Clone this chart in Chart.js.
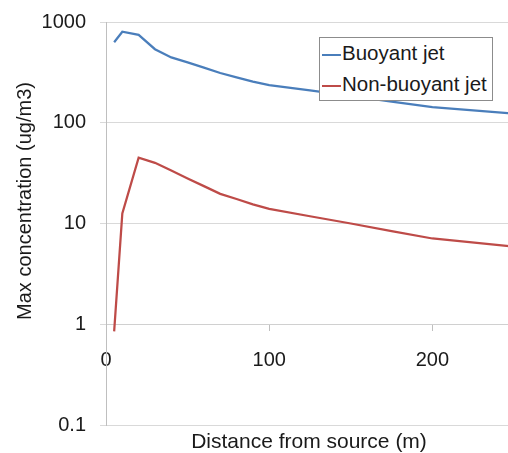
<!DOCTYPE html>
<html>
<head>
<meta charset="utf-8">
<script src="https://cdn.jsdelivr.net/npm/chart.js@4/dist/chart.umd.min.js"></script>
<style>
  html, body { margin: 0; padding: 0; background: #fff; overflow: hidden; }
  #wrap { position: relative; width: 508px; height: 453px; overflow: hidden; }
  #chart { position: absolute; left: 0; top: 0; }
  #legend {
    position: absolute; left: 319px; top: 37px; width: 172px; height: 62px;
    background: #fff; border: 1px solid #8c8c8c;
    font-family: "Liberation Sans", Arial, sans-serif; font-size: 20.5px; color: #1a1a1a;
  }
  #legend .item { position: absolute; left: 2px; white-space: nowrap; line-height: 24px; }
  #legend .swatch { display: inline-block; width: 19px; height: 2px; vertical-align: middle; margin-right: 1px; }
</style>
</head>
<body>
<div id="wrap">
  <canvas id="chart" width="516" height="453"></canvas>
  <div id="legend"></div>
</div>
<script>
// ============================================
// Data
// ============================================
const distances = [5, 10, 20, 30, 40, 50, 60, 70, 80, 90, 100, 125, 150, 175, 200, 250];
const buoyantJet = [630, 800, 745, 537, 445, 398, 353, 312, 282, 256, 236, 210, 185, 162, 143, 123];
const nonBuoyantJet = [0.85, 12.6, 45, 40, 33.5, 28, 23.5, 19.7, 17.5, 15.5, 14, 11.8, 10, 8.4, 7.1, 5.9];
const seriesNames = ['Buoyant jet', 'Non-buoyant jet'];
const seriesColors = ['#4a7ebb', '#be4b48'];
const yTicks = [0.1, 1, 10, 100, 1000];
const xTicks = [0, 100, 200];
const xTitle = 'Distance from source (m)';
const yTitle = 'Max concentration (ug/m3)';

const FONT = '"Liberation Sans", Arial, sans-serif';
const TEXT = '#1a1a1a';

// ============================================
// Axis titles (placed like the spreadsheet original)
// ============================================
const axisTitles = {
  id: 'axisTitles',
  afterDraw: (chart) => {
    const { ctx } = chart;
    ctx.save();
    ctx.fillStyle = TEXT;
    ctx.textAlign = 'center';
    ctx.textBaseline = 'middle';
    ctx.font = '21px ' + FONT;
    ctx.fillText(xTitle, 309, 442);
    ctx.font = '20px ' + FONT;
    ctx.translate(25, 201);
    ctx.rotate(-Math.PI / 2);
    ctx.fillText(yTitle, 0, 0);
    ctx.restore();
  }
};

const ctx = document.getElementById('chart').getContext('2d');

new Chart(ctx, {
  type: 'line',
  data: {
    datasets: [
      {
        label: seriesNames[0],
        data: distances.map((d, i) => ({ x: d, y: buoyantJet[i] })),
        borderColor: seriesColors[0],
        borderWidth: 2.25,
        pointRadius: 0,
        tension: 0,
        fill: false
      },
      {
        label: seriesNames[1],
        data: distances.map((d, i) => ({ x: d, y: nonBuoyantJet[i] })),
        borderColor: seriesColors[1],
        borderWidth: 2.25,
        pointRadius: 0,
        tension: 0,
        fill: false
      }
    ]
  },
  options: {
    responsive: false,
    animation: false,
    devicePixelRatio: 1,
    layout: {
      padding: { left: 0, right: 2, top: 6, bottom: 28 }
    },
    plugins: {
      legend: { display: false },
      tooltip: { enabled: false }
    },
    scales: {
      x: {
        type: 'linear',
        min: 0,
        max: 250,
        position: { y: 1 },
        afterBuildTicks: (scale) => {
          scale.ticks = xTicks.map(v => ({ value: v }));
        },
        grid: {
          drawOnChartArea: false,
          drawTicks: true,
          tickLength: 6,
          color: '#bfbfbf'
        },
        border: { color: '#d0d0d0', width: 1 },
        ticks: {
          color: TEXT,
          padding: 18,
          font: { family: FONT, size: 20 },
          maxRotation: 0
        }
      },
      y: {
        type: 'logarithmic',
        min: 0.1,
        max: 1000,
        afterBuildTicks: (scale) => {
          scale.ticks = yTicks.map(v => ({ value: v, major: true }));
        },
        afterFit: (scale) => {
          scale.width = 106;
        },
        grid: {
          color: '#d9d9d9',
          tickLength: 6,
          lineWidth: 1
        },
        border: { color: '#bfbfbf', width: 1 },
        ticks: {
          color: TEXT,
          padding: 14,
          font: { family: FONT, size: 20, lineHeight: 0.8 },
          callback: (v) => String(v)
        }
      }
    }
  },
  plugins: [axisTitles]
});

// ============================================
// Legend
// ============================================
const legendEl = document.getElementById('legend');
seriesNames.forEach((name, i) => {
  const item = document.createElement('div');
  item.className = 'item';
  item.style.top = (i === 0 ? 3 : 34) + 'px';
  item.innerHTML = '<span class="swatch" style="background:' + seriesColors[i] + '"></span>' + name;
  legendEl.appendChild(item);
});
</script>
</body>
</html>
